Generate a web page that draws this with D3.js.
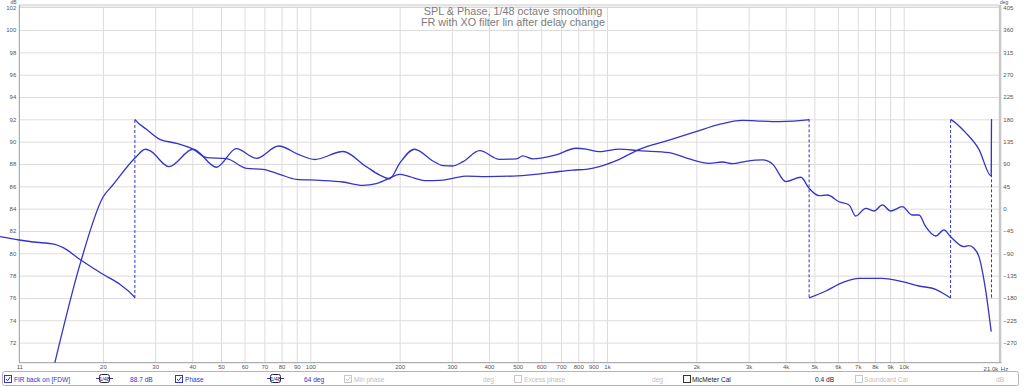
<!DOCTYPE html>
<html>
<head>
<meta charset="utf-8">
<script src="https://cdn.jsdelivr.net/npm/d3@7"></script>
<style>
  body { margin: 0; background: #fff; }
  svg text { font-family: "Liberation Sans", Arial, sans-serif; }
</style>
</head>
<body>
<div id="chart"></div>
<script>
// SPL & Phase plot (REW style) drawn with d3.

var splFreq = [13.77, 16.84, 20.0, 21.6, 25.6, 27.8, 28.8, 33.4, 40.2, 48.3, 56.3, 65.8, 78.2, 92, 103.4,
    128.8, 154.4, 171, 185, 200, 224.5, 259, 280, 302, 327, 372, 434, 494, 520, 562, 673, 786, 850, 942,
    1100, 1285, 1621, 1893, 2211, 2451, 2648, 2938, 3342, 3611, 4007, 4501, 4799, 5186, 5532, 6055, 6544,
    6893, 7449, 7943, 8472, 9041, 9892, 10690, 11260, 11860, 12820, 13670, 14390, 15960, 16590, 17250,
    17930, 18880, 19720];
var splDb = [70.2, 79.25, 85.02, 86.12, 88.51, 89.32, 89.19, 87.76, 89.32, 87.71, 89.37, 88.51, 89.61, 88.81, 88.40,
    89.12, 87.76, 87.02, 86.68, 88.06, 89.32, 88.27, 87.85, 87.82, 88.21, 89.19, 88.42, 88.45, 88.72, 88.45, 88.81, 89.41, 89.34, 89.10,
    89.34, 89.19, 89.01, 88.45, 88.06, 88.18, 88.03, 88.24, 88.36, 88.0, 86.42, 86.81, 85.82, 85.16, 85.22, 84.62, 84.33,
    83.34, 84.03, 83.79, 84.33, 83.79, 84.18, 83.43, 83.43, 82.39, 81.55, 82.09, 81.49, 80.59, 80.68, 80.45,
    79.70, 76.72, 72.98];

var phaseFreq = [9.0, 10.45, 11.64, 13.77, 14.69, 16.84, 20.0, 22.8, 25.4, 25.7, 28.05, 31.1, 35.4, 40.3, 44.7,
    52.2, 60.9, 69.2, 78.8, 89.7, 107.5, 128.8, 150.3, 166.8, 185, 200, 215.9, 245.8, 272.5, 302, 335.2, 391.4,
    481, 562, 655.8, 765.8, 850, 942, 1100, 1285, 1580, 1994, 2388, 2862, 3175, 3611, 3803, 4750, 4850,
    5463, 6214, 7071, 8472, 9643, 11260, 12820, 14300, 14480, 16170, 17930, 19720, 19765, 19775];
var phaseDeg = [-56.4, -63.2, -67.2, -71.9, -78.5, -103.5, -132.3, -152.5, -177, 179, 159.9, 139.7, 131.6, 119.6, 102.8,
    100.8, 81.3, 79.3, 69.2, 59.1, 57.1, 53.7, 47.0, 50.4, 61.7, 69.2, 64.5, 56.5, 57.1, 61.1, 65.7, 64.5,
    65.7, 68.6, 73.2, 77.8, 79.3, 84.7, 99.4, 119.6, 136.3, 155.2, 169.9, 178, 177, 175.4, 175.4, 179, -179,
    -166, -149.1, -140.4, -140.4, -145.8, -155.9, -162.6, -179, 179, 153.2, 119.6, 65.8, 179, -179];

// Axis ticks
var dbTicks = [72, 74, 76, 78, 80, 82, 84, 86, 88, 90, 92, 94, 96, 98, 100, 102];
var degTicks = [-270, -225, -180, -135, -90, -45, 0, 45, 90, 135, 180, 225, 270, 315, 360, 405];
var freqGrid = [20, 30, 40, 50, 60, 70, 80, 90, 100, 200, 300, 400, 500, 600, 700, 800, 900,
    1000, 2000, 3000, 4000, 5000, 6000, 7000, 8000, 9000, 10000];
var freqLabels = ["11", "20", "30", "40", "50", "60", "70", "80", "90", "100", "200", "300", "400", "500",
    "600", "700", "800", "900", "1k", "2k", "3k", "4k", "5k", "6k", "7k", "8k", "9k", "10k"];

var titleLines = ["SPL & Phase, 1/48 octave smoothing", "FR with XO filter lin after delay change"];

var blue = "#3434c8";
var W = 1024, H = 387;
var plotL = 19.3, plotR = 999.3, plotT = 7.7, plotB = 362.7;

var svg = d3.select("#chart")
    .append("svg")
    .attr("width", W)
    .attr("height", H)

// scales
var x = d3.scaleLog().domain([10.45, 21000]).range([plotL, plotR]);
var ySpl = d3.scaleLinear().domain([70.2, 102]).range([plotB, plotT]);
var yPh = d3.scaleLinear().domain([-310.5, 405]).range([plotB, plotT]);

/* Grid */
var gx = svg.append("g")
    .attr("transform", "translate(0," + plotB + ")")
    .call(d3.axisBottom(x).tickValues(freqGrid).tickSize(-(plotB - plotT)).tickFormat(""));
var gy = svg.append("g")
    .attr("transform", "translate(" + plotL + ",0)")
    .call(d3.axisLeft(ySpl).tickValues(dbTicks.slice(0, -1)).tickSize(-(plotR - plotL)).tickFormat(""));
[gx, gy].forEach(function (g) {
    g.select(".domain").remove();
    g.selectAll("line").attr("stroke", "#dcdcdc").attr("stroke-width", 1);
});

// frame
svg.append("line").attr("x1", plotL).attr("x2", plotR).attr("y1", 5).attr("y2", 5).attr("stroke", "#c8c8c8");
svg.append("line").attr("x1", plotL).attr("x2", plotR).attr("y1", plotT - 0.5).attr("y2", plotT - 0.5).attr("stroke", "#c8c8c8");
svg.append("rect").attr("x", plotR - 0.5).attr("y", 5).attr("width", 2.5).attr("height", plotB - 5).attr("fill", "#c8c8c8");
svg.append("line").attr("x1", plotL).attr("x2", plotL).attr("y1", 5).attr("y2", plotB).attr("stroke", "#9a9a9a");
svg.append("line").attr("x1", plotL).attr("x2", plotR + 2).attr("y1", plotB).attr("y2", plotB).attr("stroke", "#9a9a9a");

/* Axis labels */
function styleAxis(g) {
    g.select(".domain").remove();
    g.selectAll("line").remove();
    g.selectAll("text").attr("fill", "#555").style("font-size", "6px")
        .style("font-family", "'Liberation Sans', Arial, sans-serif");
}
svg.append("g")
    .attr("transform", "translate(" + (plotL - 3) + ",0)")
    .call(d3.axisLeft(ySpl).tickValues(dbTicks).tickSize(0).tickPadding(0))
    .call(styleAxis);
svg.append("g")
    .attr("transform", "translate(" + (plotR + 4) + ",0)")
    .call(d3.axisRight(yPh).tickValues(degTicks).tickSize(0).tickPadding(0))
    .call(styleAxis);
var xLabelVals = [x.domain()[0]].concat(freqGrid);
svg.append("g")
    .attr("transform", "translate(0," + (plotB + 2) + ")")
    .call(d3.axisBottom(x).tickValues(xLabelVals).tickSize(0).tickPadding(0)
        .tickFormat(function (d, i) { return freqLabels[i]; }))
    .call(styleAxis);
svg.append("text").attr("x", plotR - 1).attr("y", plotB + 8).attr("text-anchor", "end")
    .attr("fill", "#555").style("font-size", "6px").text("21.0k");
svg.append("text").attr("x", plotR + 1.5).attr("y", plotB + 8)
    .attr("fill", "#555").style("font-size", "6px").text("Hz");
svg.append("text").attr("x", 10.5).attr("y", 4).attr("fill", "#555").style("font-size", "5px").text("dB");
svg.append("text").attr("x", 1000).attr("y", 4).attr("fill", "#555").style("font-size", "5px").text("deg");

// title
svg.selectAll("text.title").data(titleLines).enter()
    .append("text")
    .attr("class", "title")
    .attr("x", 513)
    .attr("y", function (d, i) { return 15 + i * 10.5; })
    .attr("text-anchor", "middle")
    .attr("fill", "#7c7c7c")
    .style("font-size", "10.8px")
    .text(function (d) { return d; });

/* Curves */
var splPts = splFreq.map(function (f, i) { return [f, splDb[i]]; });
var line = d3.line().curve(d3.curveMonotoneX);

svg.append("path")
    .attr("d", line(splPts.map(function (p) { return [x(p[0]), ySpl(p[1])]; })))
    .attr("fill", "none")
    .attr("stroke", blue)
    .attr("stroke-width", 1.3);

// phase: split into segments where it wraps, dashed line at the wrap
var segs = [[]], wraps = [];
for (var i = 0; i < phaseFreq.length; i++) {
    var f = phaseFreq[i], v = phaseDeg[i];
    if (i > 0) {
        var f0 = phaseFreq[i - 1], v0 = phaseDeg[i - 1];
        if (v - v0 < -180 || v - v0 > 180) {
            var up = v - v0 < -180; // passed +180 going up
            var vu = up ? v + 360 : v - 360;
            var edge = up ? 180 : -180;
            var t = (edge - v0) / (vu - v0);
            var fc = Math.exp(Math.log(f0) + t * (Math.log(f) - Math.log(f0)));
            segs[segs.length - 1].push([fc, edge]);
            wraps.push({ f: fc, from: edge, to: -edge });
            segs.push([[fc, -edge]]);
        }
    }
    segs[segs.length - 1].push([f, v]);
}

svg.selectAll("path.phase").data(segs).enter()
    .append("path")
    .attr("class", "phase")
    .attr("d", function (s) { return line(s.map(function (p) { return [x(p[0]), yPh(p[1])]; })); })
    .attr("fill", "none")
    .attr("stroke", blue)
    .attr("stroke-width", 1.3);

svg.selectAll("line.wrap").data(wraps).enter()
    .append("line")
    .attr("class", "wrap")
    .attr("x1", function (d) { return x(d.f); })
    .attr("x2", function (d) { return x(d.f); })
    .attr("y1", function (d) { return yPh(d.from); })
    .attr("y2", function (d) { return yPh(d.to); })
    .attr("stroke", blue)
    .attr("stroke-width", 1)
    .attr("stroke-dasharray", "3,2");

/* Control bar at the bottom */
var bar = svg.append("g");
bar.append("rect")
    .attr("x", 2.5).attr("y", 371.5).attr("width", 1016).attr("height", 14).attr("rx", 2)
    .attr("fill", "#fff").attr("stroke", "#b4b4b4");

function checkbox(cx, checked, col) {
    bar.append("rect").attr("x", cx + 0.5).attr("y", 375.5).attr("width", 7).attr("height", 7)
        .attr("fill", "#fff").attr("stroke", col);
    if (checked) {
        bar.append("path").attr("d", "M" + (cx + 2) + ",379 L" + (cx + 3.5) + ",380.8 L" + (cx + 6.3) + ",377")
            .attr("fill", "none").attr("stroke", col).attr("stroke-width", 1);
    }
}
function label(tx, txt, col) {
    bar.append("text").attr("x", tx).attr("y", 381.5).attr("fill", col).style("font-size", "6.6px").text(txt);
}
function smoothIcon(ix) {
    bar.append("line").attr("x1", ix).attr("x2", ix + 17).attr("y1", 378.5).attr("y2", 378.5).attr("stroke", blue);
    bar.append("rect").attr("x", ix + 3.5).attr("y", 374.5).attr("width", 10).attr("height", 8).attr("rx", 2)
        .attr("fill", "#fff").attr("stroke", "#222050");
    bar.append("text").attr("x", ix + 8.5).attr("y", 380.8).attr("text-anchor", "middle")
        .attr("fill", "#222050").style("font-size", "5.5px").text("1/48");
}

checkbox(4, true, blue);
label(14, "FIR back on [FDW]", blue);
smoothIcon(96);
label(130, "88.7 dB", blue);
checkbox(175, true, blue);
label(185, "Phase", blue);
smoothIcon(267);
label(304, "64 deg", blue);
checkbox(344, true, "#c8c8c8");
label(354, "Min phase", "#c0c0c0");
label(483, "deg", "#c0c0c0");
checkbox(514, false, "#c8c8c8");
label(524, "Excess phase", "#c0c0c0");
label(652, "deg", "#c0c0c0");
checkbox(683, false, "#333");
label(692, "MicMeter Cal", "#222");
label(815, "0.4 dB", "#222");
checkbox(855, false, "#c8c8c8");
label(864, "Soundcard Cal", "#c0c0c0");
label(996, "dB", "#c0c0c0");
</script>
</body>
</html>
